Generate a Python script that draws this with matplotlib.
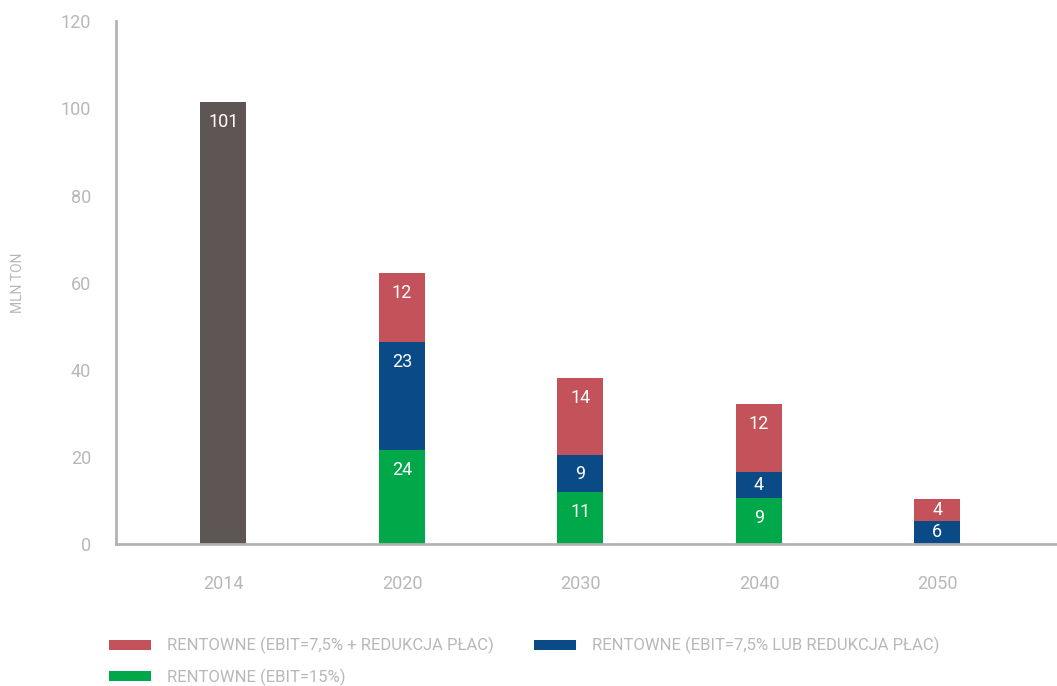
import matplotlib
matplotlib.use("Agg")
import matplotlib.pyplot as plt
import numpy as np

plt.rcParams['font.family'] = ['Roboto', 'DejaVu Sans']

# data
years = ['2014', '2020', '2030', '2040', '2050']
total_2014 = [101.5, 0, 0, 0, 0]
green_h = [0, 21.6, 11.9, 10.6, 0]
blue_h = [0, 24.8, 8.5, 5.9, 5.3]
red_h = [0, 15.8, 17.7, 15.6, 5.0]

# numbers printed inside the bars
total_lbl = [101, None, None, None, None]
green_lbl = [None, 24, 11, 9, None]
blue_lbl = [None, 23, 9, 4, 6]
red_lbl = [None, 12, 14, 12, 4]

legend_labels = ['RENTOWNE (EBIT=7,5% + REDUKCJA PŁAC)',
                 'RENTOWNE (EBIT=7,5% LUB REDUKCJA PŁAC)',
                 'RENTOWNE (EBIT=15%)']

c_grey = '#5e5555'
c_green = '#00a84a'
c_blue = '#0a4a87'
c_red = '#c4525a'
c_text = '#b8b8b8'
c_axis = '#b3b3b3'

fig = plt.figure(figsize=(10.57, 6.86), dpi=100)
ax = fig.add_axes([0.11, 0.207, 0.89, 0.762])

x = np.arange(len(years))
w = 0.258
green_h = np.array(green_h)
blue_h = np.array(blue_h)
red_h = np.array(red_h)

ax.bar(x, total_2014, w, color=c_grey)
b_green = ax.bar(x, green_h, w, color=c_green)
b_blue = ax.bar(x, blue_h, w, bottom=green_h, color=c_blue)
b_red = ax.bar(x, red_h, w, bottom=green_h + blue_h, color=c_red)


def put_labels(bottoms, heights, labels):
    for xi, b, h, lab in zip(x, bottoms, heights, labels):
        if lab is None:
            continue
        off = min(4.6, h / 2)
        ax.text(xi, b + h - off, str(lab), ha='center', va='center',
                color='white', fontsize=13)


put_labels(np.zeros(5), total_2014, total_lbl)
put_labels(np.zeros(5), green_h, green_lbl)
put_labels(green_h, blue_h, blue_lbl)
put_labels(green_h + blue_h, red_h, red_lbl)

ax.set_xlim(-0.6, 4.67)
ax.set_ylim(0, 120)
ax.set_yticks(np.arange(0, 121, 20))
ax.set_xticks(x)
ax.set_xticklabels(years)
ax.tick_params(length=0, colors=c_text, labelsize=13)
ax.tick_params(axis='y', pad=18)
ax.tick_params(axis='x', pad=22)
for s in ['top', 'right']:
    ax.spines[s].set_visible(False)
for s in ['left', 'bottom']:
    ax.spines[s].set_color(c_axis)
    ax.spines[s].set_linewidth(2)

fig.text(0.017, 0.588, 'MLN TON', rotation=90, ha='center', va='center',
         color=c_text, fontsize=10)

fig.legend([b_red, b_green, b_blue],
           [legend_labels[0], legend_labels[2], legend_labels[1]],
           ncol=2, loc='upper left', bbox_to_anchor=(0.089, 0.093),
           frameon=False, fontsize=12, labelcolor=c_text,
           handlelength=2.5, handleheight=0.55, handletextpad=0.95,
           columnspacing=2.45, labelspacing=0.85)

fig.savefig('out.png', dpi=100)
